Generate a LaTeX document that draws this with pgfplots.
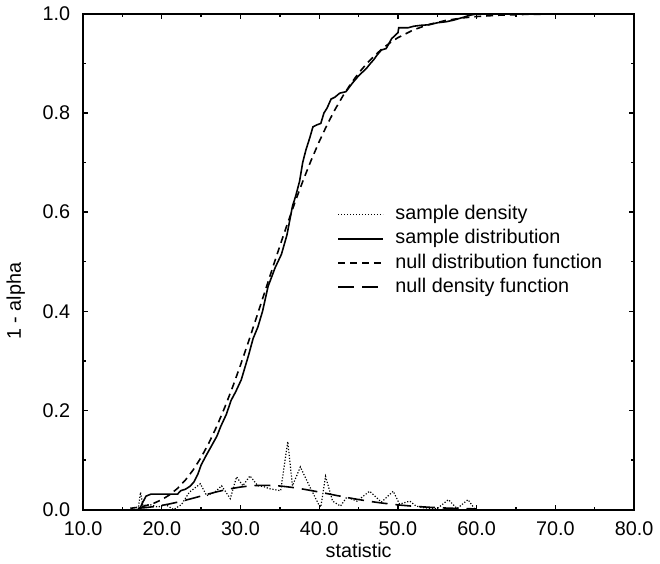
\documentclass[border=0pt]{standalone}
\usepackage{pgfplots}
\pgfplotsset{compat=1.18}
\usepackage{fontspec}
\setmainfont{Liberation Sans}
\begin{document}
\begin{tikzpicture}
\begin{axis}[
  scale only axis,
  width=278.5pt, height=250.5pt,
  xmin=10, xmax=80, ymin=0, ymax=1,
  xtick={10,20,...,80},
  ytick={0,0.2,0.4,0.6,0.8,1.0},
  minor x tick num=1,
  minor y tick num=1,
  tick align=inside,
  major tick length=2.5pt,
  minor tick length=1.5pt,
  every tick/.style={black, line width=0.7pt},
  axis line style={line width=1pt},
  font=\fontsize{10}{12}\selectfont,
  /pgf/number format/assume math mode=true,
  xticklabel style={yshift=-2.7pt, /pgf/number format/fixed, /pgf/number format/fixed zerofill, /pgf/number format/precision=1},
  yticklabel style={xshift=-3pt, /pgf/number format/fixed, /pgf/number format/fixed zerofill, /pgf/number format/precision=1},
  xlabel={statistic},
  ylabel={1 - alpha},
  every axis x label/.style={at={(axis description cs:0.5,0)}, anchor=center, yshift=-20.5pt},
  every axis y label/.style={at={(axis description cs:-0.122,0.42)}, anchor=center, rotate=90},
  legend cell align=left,
  legend image code/.code={\draw[#1] (0pt,0pt) -- (22.5pt,0pt);},
  legend style={draw=none, fill=none, inner sep=0pt,
    at={(0.461,0.62)}, anchor=north west,
    nodes={text height=7.2pt, text depth=2pt, inner ysep=1.5pt, inner xsep=6pt},
    font=\fontsize{10}{12}\selectfont},
]
% sample density
\addplot[black, line width=0.6pt, dash pattern=on 0.6pt off 0.9pt] coordinates {
(17.0,0) (17.3,0.035) (17.6,0.008) (18.5,0.01) (19.5,0.005) (20.5,0.01) (21.5,0.0)
(22.5,0.01) (23.5,0.035) (24.9,0.052) (25.7,0.028) (26.8,0.036) (27.6,0.048)
(28.7,0.022) (29.5,0.066) (30.3,0.048) (31.2,0.068) (32.2,0.048) (33.0,0.046)
(33.7,0.042) (35.1,0.038) (36.0,0.137) (36.6,0.048) (37.6,0.086) (38.8,0.046)
(40.0,0.008) (40.2,0.005) (40.8,0.067) (41.7,0.017) (42.7,0.007) (43.5,0.025)
(44.8,0.017) (46.4,0.037) (47.9,0.015) (49.4,0.037) (50.2,0.011) (51.5,0.017)
(52.3,0.007) (53.5,0.003) (55.0,0.002) (56.4,0.02) (57.5,0.002) (58.9,0.02) (59.8,0.0)
};
\addlegendentry{sample density}
% sample distribution
\addplot[black, line width=0.8pt] coordinates {
(17.0,0) (17.3,0.005) (17.6,0.015) (18.0,0.027) (18.6,0.031) (22.0,0.031)
(22.4,0.038) (23.0,0.041) (23.6,0.047) (24.1,0.056) (24.6,0.072) (25.0,0.09)
(25.6,0.108) (26.3,0.128) (27.0,0.148) (27.5,0.168) (28.2,0.192) (28.8,0.22)
(29.4,0.238) (30.1,0.262) (31.0,0.31) (31.6,0.345) (32.2,0.368) (32.8,0.40)
(33.5,0.45) (34.4,0.488) (35.2,0.515) (35.9,0.554) (36.6,0.612) (37.0,0.632)
(37.5,0.662) (37.9,0.70) (38.3,0.725) (38.8,0.75) (39.2,0.772) (39.7,0.776)
(40.2,0.779) (40.6,0.80) (41.0,0.81) (41.5,0.828) (42.0,0.832) (42.6,0.84)
(43.4,0.843) (44.2,0.86) (45.0,0.875) (46.0,0.89) (46.5,0.90) (46.9,0.907)
(47.4,0.918) (47.9,0.927) (48.5,0.93) (49.2,0.95) (50.0,0.962) (50.1,0.972)
(51.3,0.972) (52.0,0.975) (53.0,0.977) (54.0,0.978) (55.0,0.982) (56.1,0.984)
(57.0,0.987) (58.3,0.993) (59.1,0.997) (60.0,1.0) (80.0,1.0)
};
\addlegendentry{sample distribution}
% null distribution function
\addplot[black, line width=0.8pt, dash pattern=on 3.5pt off 2.5pt] coordinates {
(16,0.0025) (17,0.0046) (18,0.0079) (19,0.0128) (20,0.0199) (21,0.0297)
(22,0.0427) (23,0.0595) (24,0.0802) (25,0.1053) (26,0.1348) (27,0.1684)
(28,0.2061) (29,0.2472) (30,0.2915) (31,0.3380) (32,0.3862) (33,0.4349)
(34,0.4837) (35,0.5318) (36,0.5784) (37,0.6234) (38,0.6659) (39,0.7055)
(40,0.7424) (41,0.7763) (42,0.8069) (43,0.8342) (44,0.8588) (45,0.8803)
(46,0.8992) (47,0.9154) (48,0.9296) (49,0.9417) (50,0.9520) (52,0.9679)
(54,0.9789) (56,0.9864) (58,0.9914) (60,0.9946) (63,0.9974) (66,0.9988)
(70,0.9996) (75,0.9999) (80,1.0)
};
\addlegendentry{null distribution function}
% null density function
\addplot[black, line width=0.8pt, dash pattern=on 8pt off 4pt] coordinates {
(17,0.0026) (18,0.0040) (19,0.0059) (20,0.0084) (21,0.0114) (22,0.0149)
(23,0.0188) (24,0.0230) (25,0.0273) (26,0.0317) (27,0.0358) (28,0.0396)
(29,0.0428) (30,0.0454) (31,0.0473) (32,0.0485) (33,0.0489) (34,0.0485)
(35,0.0475) (36,0.0458) (37,0.0437) (38,0.0411) (39,0.0383) (40,0.0353)
(41,0.0322) (42,0.0290) (43,0.0260) (44,0.0230) (45,0.0202) (46,0.0176)
(47,0.0152) (48,0.0131) (49,0.0112) (50,0.0094) (52,0.0066) (54,0.0046)
(56,0.0031) (58,0.0020) (60,0.0013)
};
\addlegendentry{null density function}
\end{axis}
\path (-40pt,-26pt) rectangle (290pt,257.5pt);
\end{tikzpicture}
\end{document}
